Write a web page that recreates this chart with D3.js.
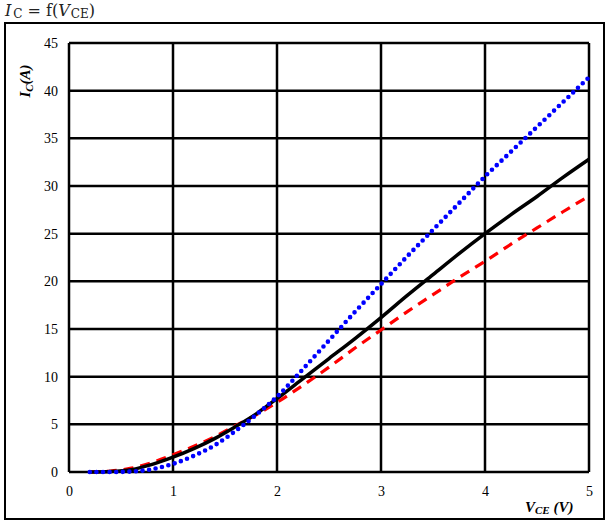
<!DOCTYPE html>
<html>
<head>
<meta charset="utf-8">
<script src="https://cdn.jsdelivr.net/npm/d3@7"></script>
<style>
  html, body { margin: 0; padding: 0; background: #fff; }
  svg { display: block; }
</style>
</head>
<body>
<svg id="chart" width="607" height="521"></svg>
<script>
// Collector-emitter voltage samples (V)
const vce = [0.2, 0.4, 0.6, 0.8, 1.0, 1.2, 1.4, 1.6, 1.8, 2.0, 2.25, 2.5, 2.75,
             3.0, 3.25, 3.5, 3.75, 4.0, 4.25, 4.5, 4.75, 5.0];
// Collector current (A) for the three curves
const icSolid  = [0, 0.05, 0.25, 0.8, 1.55, 2.45, 3.5, 4.75, 6.1, 7.7, 9.8, 11.9, 14.0,
                  16.2, 18.5, 20.7, 22.9, 25.0, 27.0, 28.9, 30.9, 32.8];
const icDashed = [0, 0.1, 0.4, 1.0, 1.8, 2.7, 3.7, 4.85, 6.0, 7.3, 9.1, 11.0, 13.0,
                  14.9, 16.8, 18.6, 20.4, 22.1, 23.9, 25.6, 27.3, 28.95];
const icDotted = [0, 0, 0.05, 0.3, 0.85, 1.7, 2.8, 4.3, 6.0, 7.9, 10.8, 13.8, 16.8,
                  19.7, 22.6, 25.4, 28.2, 31.0, 33.6, 36.2, 38.8, 41.4];
const xTicks = [0, 1, 2, 3, 4, 5];
const yTicks = [0, 5, 10, 15, 20, 25, 30, 35, 40, 45];

const svg = d3.select("#chart");
const serif = "'Liberation Serif', 'Times New Roman', serif";

// outer frame
svg.append("rect")
  .attr("x", 5).attr("y", 23).attr("width", 599).attr("height", 496)
  .attr("fill", "none").attr("stroke", "#000").attr("stroke-width", 2);

// heading
const title = svg.append("text").attr("x", 5).attr("y", 16)
  .attr("font-family", "'DejaVu Serif', serif").attr("font-size", 16).attr("fill", "#222");
title.append("tspan").attr("font-style", "italic").text("I");
title.append("tspan").attr("font-size", 12).attr("dx", 2).attr("dy", 2).text("C");
title.append("tspan").attr("dy", -2).text(" = f(");
title.append("tspan").attr("font-style", "italic").text("V");
title.append("tspan").attr("font-size", 12).attr("dx", 1).attr("dy", 2).text("CE");
title.append("tspan").attr("dy", -2).text(")");

const x = d3.scaleLinear().domain([0, 5]).range([69, 589]);
const y = d3.scaleLinear().domain([0, 45]).range([472, 43]);

// grid
const grid = svg.append("g").attr("stroke", "#000").attr("stroke-width", 2.5);
grid.selectAll("line.v").data(xTicks).join("line").attr("class", "v")
  .attr("x1", d => x(d)).attr("x2", d => x(d))
  .attr("y1", y(0)).attr("y2", y(45));
grid.selectAll("line.h").data(yTicks).join("line").attr("class", "h")
  .attr("x1", x(0)).attr("x2", x(5))
  .attr("y1", d => y(d)).attr("y2", d => y(d));

// tick labels via axes without domain/tick lines
const xAxis = svg.append("g").attr("transform", `translate(0,${y(0)})`)
  .call(d3.axisBottom(x).tickValues(xTicks).tickSize(0).tickPadding(14).tickFormat(d3.format("d")));
const yAxis = svg.append("g").attr("transform", `translate(${x(0)},0)`)
  .call(d3.axisLeft(y).tickValues(yTicks).tickSize(0).tickPadding(11).tickFormat(d3.format("d")));
[xAxis, yAxis].forEach(a => {
  a.select(".domain").remove();
  a.selectAll("text").attr("font-family", serif).attr("font-size", 14).attr("fill", "#000");
});

// curves
const line = (ys) => d3.line().curve(d3.curveMonotoneX)
  .x((d, i) => x(vce[i])).y(d => y(d))(ys);

svg.append("path").attr("d", line(icDashed))
  .attr("fill", "none").attr("stroke", "#ff0000").attr("stroke-width", 3.2)
  .attr("stroke-dasharray", "10 7");
svg.append("path").attr("d", line(icSolid))
  .attr("fill", "none").attr("stroke", "#000").attr("stroke-width", 3.5);
svg.append("path").attr("d", line(icDotted))
  .attr("fill", "none").attr("stroke", "#0000ff").attr("stroke-width", 4.6)
  .attr("stroke-linecap", "round").attr("stroke-dasharray", "0 6.6");

// axis titles
const yl = svg.append("text")
  .attr("transform", "translate(30,81) rotate(-90)")
  .attr("text-anchor", "middle")
  .attr("font-family", serif).attr("font-size", 15)
  .attr("font-weight", "bold").attr("font-style", "italic").attr("fill", "#000");
yl.append("tspan").text("I");
yl.append("tspan").attr("font-size", 11).attr("dy", 3).text("C");
yl.append("tspan").attr("dy", -3).text("(A)");

const xl = svg.append("text")
  .attr("x", 525).attr("y", 512)
  .attr("font-family", serif).attr("font-size", 15)
  .attr("font-weight", "bold").attr("font-style", "italic").attr("fill", "#000");
xl.append("tspan").text("V");
xl.append("tspan").attr("font-size", 11).attr("dy", 2).text("CE");
xl.append("tspan").attr("dy", -2).text(" (V)");
</script>
</body>
</html>
